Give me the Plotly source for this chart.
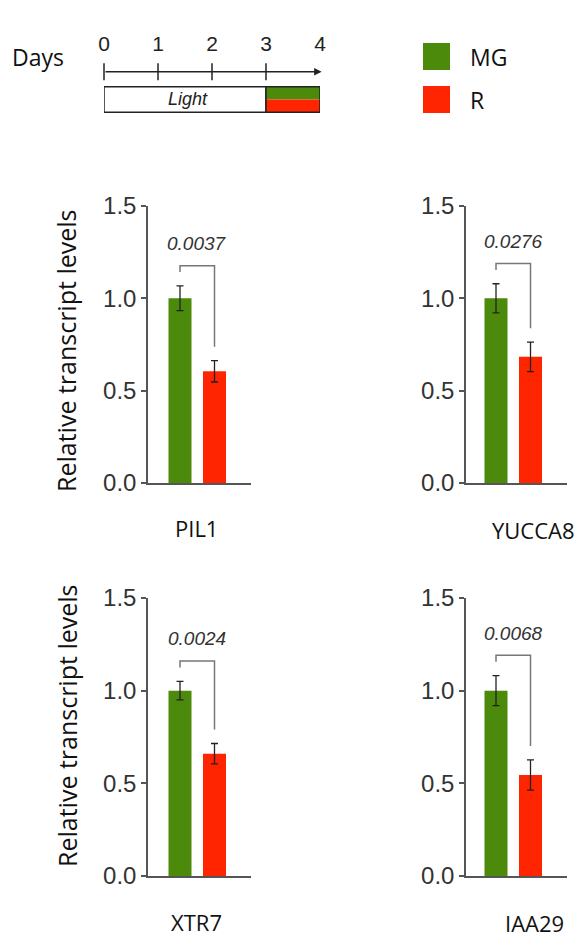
import plotly.graph_objects as go

W, H = 582, 940

# Expression data: MG (control) and R treatment, mean and error per gene
genes = ["PIL1", "YUCCA8", "XTR7", "IAA29"]
conditions = ["MG", "R"]
mg_mean = [1.00, 1.00, 1.00, 1.00]
mg_err = [0.067, 0.079, 0.050, 0.081]
r_mean = [0.605, 0.683, 0.660, 0.545]
r_err = [0.058, 0.080, 0.055, 0.082]
p_values = ["0.0037", "0.0276", "0.0024", "0.0068"]
y_ticks = [0.0, 0.5, 1.0, 1.5]

# Experimental timeline (days)
days = [0, 1, 2, 3, 4]
light_period = [0, 3]
treatment_period = [3, 4]

GREEN = "#4B8A0B"
RED = "#FF2500"
AXIS = "#555555"
TEXT = "#222222"
SANS = "Liberation Sans, Arial, sans-serif"
HUMAN = "Open Sans, Noto Sans, sans-serif"


def fx(p):
    return p / W


def fy(p):
    return 1 - p / H


# panel frames in pixels: y-axis x, x-axis end, 1.5 tick y, 0 tick y, first bar centre offset
panels = [
    dict(left=148, right=251, top=206, bottom=483, first=32),
    dict(left=466, right=567, top=206, bottom=483, first=30),
    dict(left=148, right=251, top=598, bottom=876, first=32),
    dict(left=466, right=567, top=598, bottom=876, first=30),
]
gene_label_pos = [(196, 528), (533, 530), (196, 922), (534, 923)]
title_pos = [(66, 351), (67, 726)]
UNIT = 34.5   # px between bar centres
BAR_PX = 23

fig = go.Figure()
layout = dict(
    template="none",
    width=W, height=H, autosize=False,
    margin=dict(l=0, r=0, t=0, b=0, pad=0),
    paper_bgcolor="white", plot_bgcolor="white",
    showlegend=False,
)
annotations = []
shapes = []

for i, pnl in enumerate(panels):
    k = i + 1
    xa, ya = f"x{k}", f"y{k}"
    fig.add_trace(go.Bar(
        x=conditions, y=[mg_mean[i], r_mean[i]],
        marker=dict(color=[GREEN, RED], line=dict(width=0)),
        width=BAR_PX / UNIT,
        error_y=dict(type="data", array=[mg_err[i], r_err[i]],
                     color=TEXT, thickness=1.3, width=3.5),
        xaxis=xa, yaxis=ya, hoverinfo="skip",
    ))
    # significance bracket
    left_end = mg_mean[i] + mg_err[i] + 0.075
    right_end = r_mean[i] + r_err[i] + 0.075
    top = mg_mean[i] + mg_err[i] + 0.11
    fig.add_trace(go.Scatter(
        x=[conditions[0], conditions[0], conditions[1], conditions[1]],
        y=[left_end, top, top, right_end],
        mode="lines", line=dict(color="#777777", width=1.5),
        xaxis=xa, yaxis=ya, hoverinfo="skip",
    ))
    annotations.append(dict(
        x=0.5, y=top + 0.12, xref=xa, yref=ya, showarrow=False,
        text=f"<i>{p_values[i]}</i>",
        font=dict(family=SANS, size=19, color="#333333"),
        xanchor="center", yanchor="middle",
    ))
    span = pnl["right"] - pnl["left"]
    layout[f"xaxis{k}"] = dict(
        domain=[fx(pnl["left"]), fx(pnl["right"])],
        range=[-pnl["first"] / UNIT, (span - pnl["first"]) / UNIT],
        anchor=ya, showline=True, linecolor=AXIS, linewidth=1.5,
        showticklabels=False, ticks="", showgrid=False, zeroline=False,
        automargin=False,
    )
    layout[f"yaxis{k}"] = dict(
        domain=[fy(pnl["bottom"]), fy(pnl["top"])],
        range=[0, 1.5], anchor=xa,
        tickvals=y_ticks, ticktext=[f"{v:.1f}" for v in y_ticks],
        showline=True, linecolor=AXIS, linewidth=1.5,
        ticks="outside", ticklen=5, tickwidth=1.5, tickcolor=AXIS,
        tickfont=dict(family=SANS, size=24, color="#333333"),
        showgrid=False, zeroline=False, automargin=False,
    )
    gx, gy = gene_label_pos[i]
    annotations.append(dict(
        x=fx(gx), y=fy(gy), xref="paper", yref="paper", showarrow=False,
        text=genes[i], font=dict(family=HUMAN, size=22, color="#111111"),
        xanchor="center", yanchor="middle", borderpad=0,
    ))

for tx, ty in title_pos:
    annotations.append(dict(
        x=fx(tx), y=fy(ty), xref="paper", yref="paper", showarrow=False,
        text="Relative transcript levels", textangle=-90,
        font=dict(family=HUMAN, size=25, color="#111111"),
        xanchor="center", yanchor="middle",
    ))

# ---- timeline schematic ----
layout["xaxis5"] = dict(domain=[fx(104), fx(320)], range=[days[0], days[-1]],
                        anchor="y5", visible=False, fixedrange=True,
                        automargin=False)
layout["yaxis5"] = dict(domain=[fy(115), fy(30)], range=[0, 1],
                        anchor="x5", visible=False, fixedrange=True,
                        automargin=False)
LINE_Y, LABEL_Y = 0.509, 0.81
BOX_LO, BOX_HI = 0.032, 0.333
BOX_MID = (BOX_LO + BOX_HI) / 2

fig.add_trace(go.Scatter(
    x=days[:-1], y=[LINE_Y] * (len(days) - 1), mode="markers",
    marker=dict(symbol="line-ns-open", size=12, color=TEXT,
                line=dict(color=TEXT, width=1.5)),
    xaxis="x5", yaxis="y5", hoverinfo="skip", cliponaxis=False,
))
fig.add_trace(go.Scatter(
    x=days, y=[LABEL_Y] * len(days), mode="text",
    text=[str(d) for d in days],
    textfont=dict(family=SANS, size=21, color=TEXT),
    xaxis="x5", yaxis="y5", hoverinfo="skip", cliponaxis=False,
))
annotations.append(dict(
    x=days[-1] + 0.03, y=LINE_Y, ax=days[0], ay=LINE_Y,
    xref="x5", yref="y5", axref="x5", ayref="y5",
    text="", showarrow=True, arrowhead=2, arrowsize=1,
    arrowwidth=1.5, arrowcolor=TEXT,
))
shapes += [
    dict(type="rect", xref="x5", yref="y5",
         x0=light_period[0], x1=light_period[1], y0=BOX_LO, y1=BOX_HI,
         fillcolor="white", line=dict(color=TEXT, width=1.5)),
    dict(type="rect", xref="x5", yref="y5",
         x0=treatment_period[0], x1=treatment_period[1], y0=BOX_MID, y1=BOX_HI,
         fillcolor=GREEN, line=dict(width=0)),
    dict(type="rect", xref="x5", yref="y5",
         x0=treatment_period[0], x1=treatment_period[1], y0=BOX_LO, y1=BOX_MID,
         fillcolor=RED, line=dict(width=0)),
    dict(type="rect", xref="x5", yref="y5",
         x0=treatment_period[0], x1=treatment_period[1], y0=BOX_LO, y1=BOX_HI,
         fillcolor="rgba(0,0,0,0)", line=dict(color=TEXT, width=1.5)),
]
annotations.append(dict(
    x=sum(light_period) / 2 + 0.05, y=BOX_MID, xref="x5", yref="y5",
    showarrow=False, text="<i>Light</i>",
    font=dict(family=SANS, size=18, color=TEXT),
    xanchor="center", yanchor="middle",
))
annotations.append(dict(
    x=fx(38), y=fy(57), xref="paper", yref="paper", showarrow=False,
    text="Days", font=dict(family=HUMAN, size=23, color="#111111"),
    xanchor="center", yanchor="middle",
))

# ---- legend ----
for (label, color, top_px) in [(conditions[0], GREEN, 43), (conditions[1], RED, 86)]:
    shapes.append(dict(type="rect", xref="paper", yref="paper",
                       x0=fx(423), x1=fx(450), y0=fy(top_px + 27), y1=fy(top_px),
                       fillcolor=color, line=dict(width=0)))
    annotations.append(dict(
        x=fx(468), y=fy(top_px + 14), xref="paper", yref="paper",
        showarrow=False, text=label,
        font=dict(family=HUMAN, size=23, color="#111111"),
        xanchor="left", yanchor="middle",
    ))

layout["annotations"] = annotations
layout["shapes"] = shapes
fig.update_layout(**layout)
fig.write_html("out.html")
